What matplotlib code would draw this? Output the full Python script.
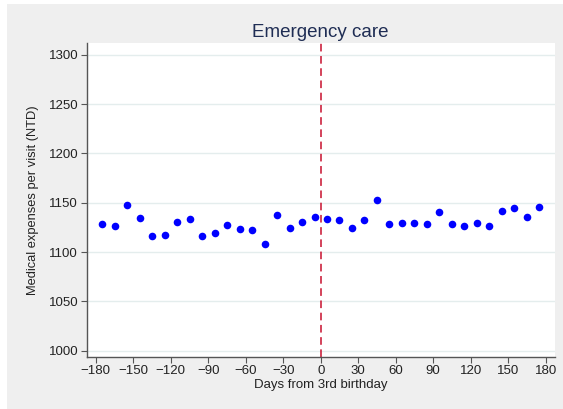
import numpy as np
import matplotlib.pyplot as plt
from matplotlib.patches import Rectangle

plt.rcParams['font.family'] = ['Liberation Sans', 'DejaVu Sans']

# days from 3rd birthday (bin centres) and mean expenses per visit
days = [-175, -165, -155, -145, -135, -125, -115, -105, -95, -85, -75, -65,
        -55, -45, -35, -25, -15, -5, 5, 15, 25, 35, 45, 55, 65, 75, 85, 95,
        105, 115, 125, 135, 145, 155, 165, 175]
expense = [1128, 1126, 1148, 1134, 1116, 1117, 1130, 1133, 1116, 1119, 1127, 1123,
           1122, 1108, 1138, 1124, 1130, 1136, 1133, 1132, 1124, 1132, 1153, 1128,
           1129, 1129, 1128, 1141, 1128, 1126, 1129, 1126, 1142, 1145, 1135, 1146]
xticks = list(range(-180, 181, 30))
yticks = list(range(1000, 1301, 50))

fig = plt.figure(figsize=(5.63, 4.09), dpi=100)
fig.patch.set_facecolor('white')
# gray outer panel (stata style)
fig.patches.append(Rectangle((7 / 563, 0), 1, 1 - 4 / 409, transform=fig.transFigure,
                             facecolor='#efefef', edgecolor='none', zorder=-10))

ax = fig.add_axes([86.5 / 563, 1 - 357 / 409, (555 - 86.5) / 563, (357 - 43) / 409])
ax.set_facecolor('white')

ax.scatter(days, expense, s=30, color='#0000ff', zorder=3, linewidths=0)
ax.axvline(0, color='#c8102e', linestyle=(0, (5, 3)), linewidth=1.1, zorder=2)

ax.set_xlim(-187.5, 187.5)
ax.set_ylim(993.5, 1312)
ax.set_xticks(xticks)
ax.set_yticks(yticks)
ax.yaxis.grid(True, color='#e4eded', linewidth=1)
ax.set_axisbelow(True)

for s in ['top', 'right']:
    ax.spines[s].set_visible(False)
for s in ['left', 'bottom']:
    ax.spines[s].set_color('#555555')
    ax.spines[s].set_linewidth(1)

ax.tick_params(axis='both', direction='out', length=4, width=0.8, color='#555555',
               labelsize=9.5, labelcolor='#222222', pad=2)

ax.set_xlabel('Days from 3rd birthday', fontsize=9.5, color='#222222', labelpad=1)
ax.set_ylabel('Medical expenses per visit (NTD)', fontsize=9.3, color='#222222', labelpad=7)
ax.set_title('Emergency care', fontsize=13.5, color='#1f2d54', pad=4)

fig.savefig('out.png', dpi=100, facecolor=fig.get_facecolor())
